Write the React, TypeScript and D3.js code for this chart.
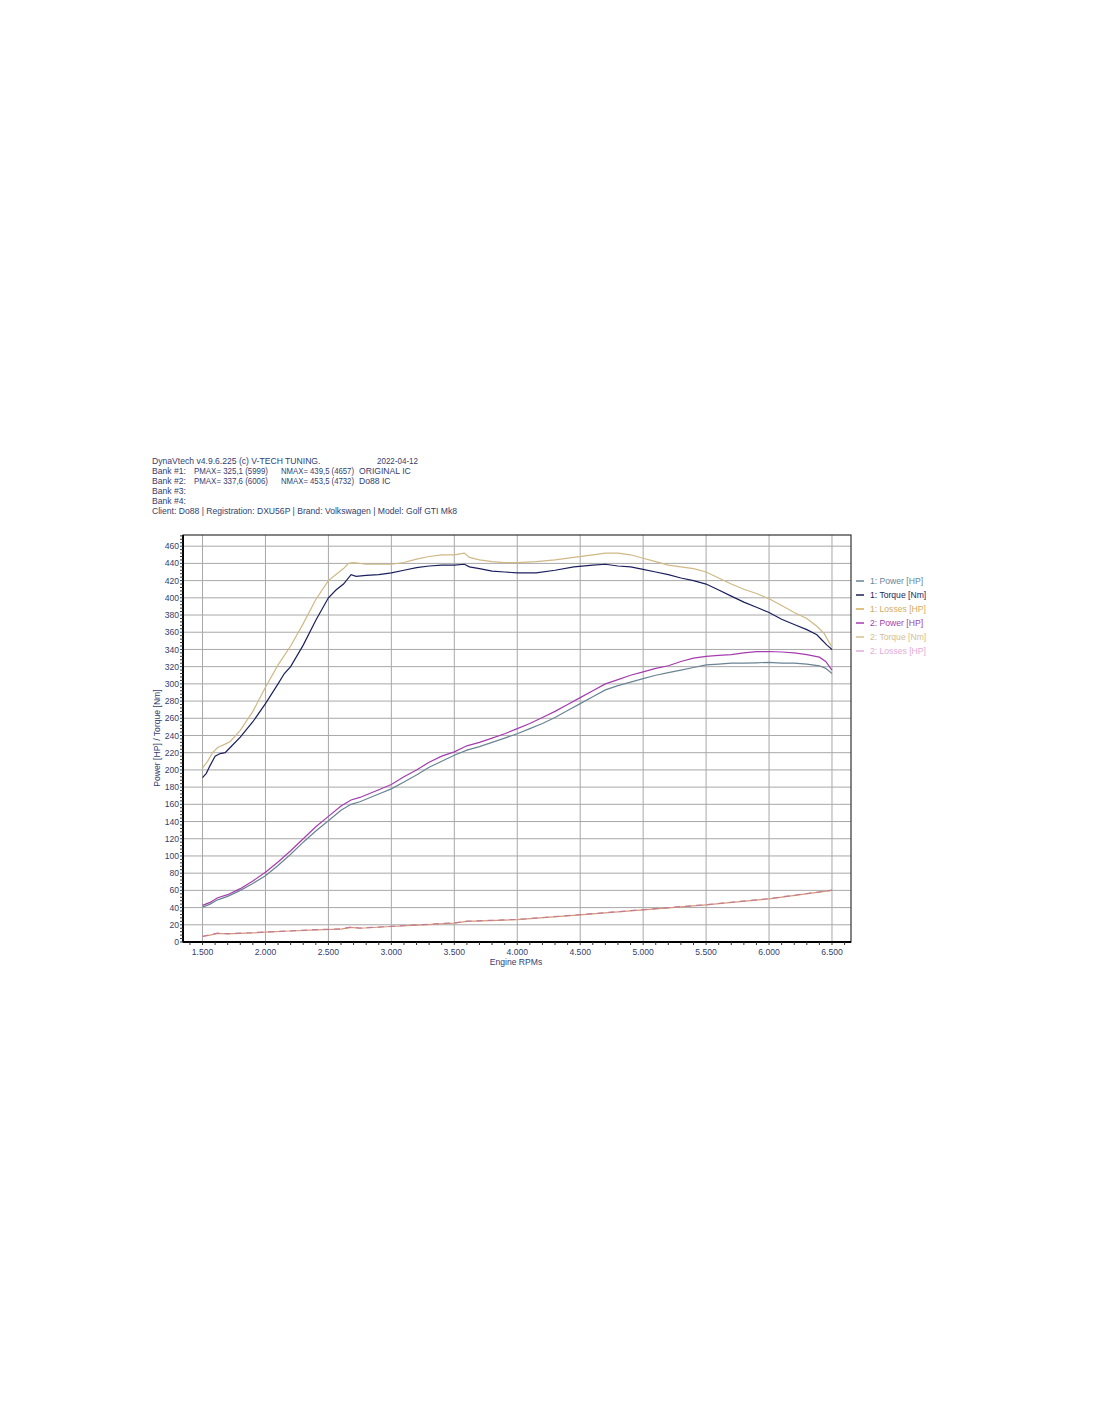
import * as d3 from "d3"

// dyno run, two banks: original intercooler vs Do88 intercooler
const headerLines = [
  "DynaVtech v4.9.6.225 (c) V-TECH TUNING.",
  "Bank #1:",
  "Bank #2:",
  "Bank #3:",
  "Bank #4:",
  "Client: Do88 | Registration: DXU56P | Brand: Volkswagen | Model: Golf GTI Mk8",
]
const runDate = "2022-04-12"
const pmaxTexts = ["PMAX= 325,1 (5999)", "PMAX= 337,6 (6006)"]
const nmaxTexts = ["NMAX= 439,5 (4657)", "NMAX= 453,5 (4732)"]
const bankNames = ["ORIGINAL IC", "Do88 IC"]

const xTicks = [1500, 2000, 2500, 3000, 3500, 4000, 4500, 5000, 5500, 6000, 6500]
const yTicks = [0, 20, 40, 60, 80, 100, 120, 140, 160, 180, 200, 220, 240, 260, 280, 300, 320, 340, 360, 380, 400, 420, 440, 460]

const torque1: [number, number][] = [
  [1500, 191], [1530, 196], [1560, 205], [1600, 216], [1640, 219], [1680, 220], [1720, 226],
  [1800, 238], [1900, 256], [2000, 277], [2100, 300], [2150, 312], [2200, 320], [2300, 345],
  [2400, 374], [2500, 400], [2560, 409], [2620, 416], [2680, 427], [2720, 425],
  [2800, 426], [2900, 427], [3000, 429], [3100, 432], [3200, 435], [3300, 437], [3400, 438],
  [3500, 438], [3580, 439], [3620, 436], [3700, 434], [3800, 431], [3900, 430], [4000, 429],
  [4150, 429], [4300, 432], [4450, 436], [4600, 438], [4700, 439], [4800, 437], [4900, 436],
  [5000, 433], [5100, 430], [5200, 427], [5300, 423], [5400, 420], [5500, 416], [5600, 409],
  [5700, 402], [5800, 395], [5900, 389], [6000, 383], [6100, 375], [6200, 369], [6300, 363],
  [6380, 357], [6420, 351], [6460, 345], [6500, 340],
]

const torque2: [number, number][] = [
  [1500, 202], [1540, 210], [1580, 220], [1620, 226], [1680, 230], [1720, 233], [1800, 246],
  [1900, 268], [2000, 296], [2100, 322], [2200, 344], [2300, 370], [2400, 398], [2500, 420],
  [2560, 427], [2620, 434], [2660, 440], [2700, 441], [2800, 439], [2900, 439], [3000, 439],
  [3100, 441], [3200, 445], [3300, 448], [3400, 450], [3500, 450], [3580, 452], [3620, 447],
  [3700, 444], [3800, 442], [3900, 441], [4000, 441], [4150, 442], [4300, 444], [4450, 447],
  [4600, 450], [4700, 452], [4800, 452], [4900, 450], [5000, 446], [5100, 442], [5200, 438],
  [5300, 436], [5400, 434], [5500, 430], [5600, 423], [5700, 416], [5800, 410], [5900, 405],
  [6000, 399], [6100, 391], [6200, 383], [6300, 376], [6380, 367], [6440, 358], [6470, 350],
  [6500, 343],
]

const power1: [number, number][] = [
  [1500, 40.5], [1560, 44], [1620, 49], [1700, 53], [1800, 60], [1900, 68], [2000, 77],
  [2100, 89], [2200, 102], [2300, 116], [2400, 129], [2500, 141], [2600, 153], [2680, 160],
  [2750, 163], [2900, 172], [3000, 178], [3100, 186], [3200, 194], [3300, 203], [3400, 210],
  [3500, 217], [3600, 223], [3700, 227], [3800, 232], [3900, 237], [4000, 242], [4100, 248],
  [4200, 254], [4300, 261], [4400, 269], [4500, 277], [4600, 285], [4700, 293], [4800, 298],
  [4900, 302], [5000, 306], [5100, 310], [5200, 313], [5300, 316], [5400, 319], [5500, 322],
  [5600, 323], [5700, 324], [5800, 324], [5900, 324.5], [6000, 325], [6100, 324], [6200, 324],
  [6300, 323], [6400, 321], [6450, 318], [6500, 312],
]

const power2: [number, number][] = [
  [1500, 42.5], [1560, 46], [1620, 51.5], [1700, 55], [1800, 62], [1900, 71], [2000, 81],
  [2100, 93], [2200, 106], [2300, 120], [2400, 134], [2500, 146], [2600, 158], [2680, 165],
  [2750, 168], [2900, 177], [3000, 183], [3100, 192], [3200, 200], [3300, 209], [3400, 216],
  [3500, 221], [3600, 228], [3700, 232], [3800, 237], [3900, 242], [4000, 248], [4100, 254],
  [4200, 261], [4300, 268], [4400, 276], [4500, 284], [4600, 292], [4700, 300], [4800, 305],
  [4900, 310], [5000, 314], [5100, 318], [5200, 321], [5300, 326], [5400, 330], [5500, 332],
  [5600, 333], [5700, 334], [5800, 336], [5900, 337.5], [6000, 337.6], [6100, 337], [6200, 336],
  [6300, 334], [6400, 331], [6450, 326], [6500, 316],
]

const losses1: [number, number][] = [
  [1500, 6.4], [1560, 8], [1620, 10], [1700, 9.5], [1800, 10], [1900, 10.5], [2000, 11.4],
  [2200, 12.8], [2400, 14], [2600, 15], [2680, 17], [2750, 16], [3000, 18], [3250, 20],
  [3500, 22], [3600, 24], [3900, 25.5], [4000, 26], [4500, 31.6], [5000, 37.4], [5500, 43.2],
  [6000, 50.2], [6500, 60],
]

const losses2: [number, number][] = [
  [1500, 6.6], [1560, 8.3], [1620, 10.2], [1700, 9.7], [1800, 10.2], [1900, 10.8], [2000, 11.6],
  [2200, 13], [2400, 14.3], [2600, 15.2], [2680, 17.3], [2750, 16.2], [3000, 18.2], [3250, 20.3],
  [3500, 22.2], [3600, 24.2], [3900, 25.7], [4000, 26.2], [4500, 31.8], [5000, 37.6], [5500, 43.4],
  [6000, 50.4], [6500, 60.2],
]

const legendLabels = ["1: Power [HP]", "1: Torque [Nm]", "1: Losses [HP]", "2: Power [HP]", "2: Torque [Nm]", "2: Losses [HP]"]
const legendColors = ["#6a8494", "#1c1f5e", "#d4ac5c", "#a43cb0", "#d2c090", "#e2aad8"]

const font = "'Liberation Sans', Arial, sans-serif"
const textColor = "#34406e"
const fs = 8.6

export default function App() {
  const left = 183
  const right = 851
  const top = 535
  const bottom = 942

  const x = d3.scaleLinear().domain([1345, 6651]).range([left, right])
  const y = d3.scaleLinear().domain([0, 473]).range([bottom, top])

  const line = d3.line<[number, number]>()
    .x(d => x(d[0]))
    .y(d => y(d[1]))

  const series = [
    { data: losses1, color: "#d49a78", dash: "" },
    { data: losses2, color: "#c47a98", dash: "6,5" },
    { data: power1, color: legendColors[0], dash: "" },
    { data: power2, color: legendColors[3], dash: "" },
    { data: torque2, color: "#cfb985", dash: "" },
    { data: torque1, color: legendColors[1], dash: "" },
  ]

  const xMinor = d3.range(1400, 6651, 100)
  const yMinor = d3.range(0, 473, 4)
  const rowY = (i: number) => 464 + i * 9.9

  return (
    <svg width={1100} height={1422} style={{ position: "absolute", left: 0, top: 0, background: "#fff" }}>
      {/* header block */}
      <g fontFamily={font} fontSize={fs} fill={textColor}>
        {headerLines.map((t, i) => (
          <text key={t} x={152} y={rowY(i)}>{t}</text>
        ))}
        <text x={377} y={rowY(0)} textLength={41} lengthAdjust="spacingAndGlyphs">{runDate}</text>
        {pmaxTexts.map((t, i) => (
          <text key={t} x={194} y={rowY(i + 1)} textLength={74} lengthAdjust="spacingAndGlyphs">{t}</text>
        ))}
        {nmaxTexts.map((t, i) => (
          <text key={t} x={281} y={rowY(i + 1)} textLength={73} lengthAdjust="spacingAndGlyphs">{t}</text>
        ))}
        {bankNames.map((t, i) => (
          <text key={t} x={359} y={rowY(i + 1)}>{t}</text>
        ))}
      </g>

      {/* grid */}
      <g stroke="#a8a8a8" strokeWidth={1}>
        {xTicks.map(v => (
          <line key={"gx" + v} x1={x(v)} x2={x(v)} y1={top} y2={bottom} />
        ))}
        {yTicks.filter(v => v > 0).map(v => (
          <line key={"gy" + v} x1={left} x2={right} y1={y(v)} y2={y(v)} />
        ))}
      </g>

      {/* curves */}
      <g fill="none">
        {series.map((s, i) => (
          <path key={i} d={line(s.data) ?? ""} stroke={s.color} strokeWidth={1.2} strokeDasharray={s.dash} />
        ))}
      </g>

      {/* frame */}
      <rect x={left} y={top} width={right - left} height={bottom - top} fill="none" stroke="#333" strokeWidth={1.2} />
      <line x1={left} x2={left} y1={top} y2={bottom} stroke="#000" strokeWidth={2} />
      <line x1={left} x2={right} y1={bottom} y2={bottom} stroke="#000" strokeWidth={2} />

      {/* minor ticks */}
      <g stroke="#333" strokeWidth={1}>
        {xMinor.map(v => (
          <line key={"mx" + v} x1={x(v)} x2={x(v)} y1={bottom} y2={bottom + 3} />
        ))}
        {yMinor.map(v => (
          <line key={"my" + v} x1={left - 3} x2={left} y1={y(v)} y2={y(v)} />
        ))}
      </g>

      {/* axis labels */}
      <g fontFamily={font} fontSize={fs} fill={textColor}>
        {yTicks.map(v => (
          <text key={"ty" + v} x={179} y={y(v) + 3.1} textAnchor="end">{v}</text>
        ))}
        {xTicks.map(v => (
          <text key={"tx" + v} x={x(v)} y={955} textAnchor="middle">{d3.format(",")(v).replace(",", ".")}</text>
        ))}
        <text x={516} y={965} textAnchor="middle">Engine RPMs</text>
        <text transform="translate(160,738) rotate(-90)" textAnchor="middle">Power [HP] / Torque [Nm]</text>
      </g>

      {/* legend */}
      <g fontFamily={font} fontSize={fs}>
        {legendLabels.map((t, i) => (
          <g key={t} transform={`translate(856,${581 + i * 14})`}>
            <line x1={0} x2={8} y1={0} y2={0} stroke={legendColors[i]} strokeWidth={1.5} />
            <text x={14} y={3.1} fill={legendColors[i]}>{t}</text>
          </g>
        ))}
      </g>
    </svg>
  )
}
